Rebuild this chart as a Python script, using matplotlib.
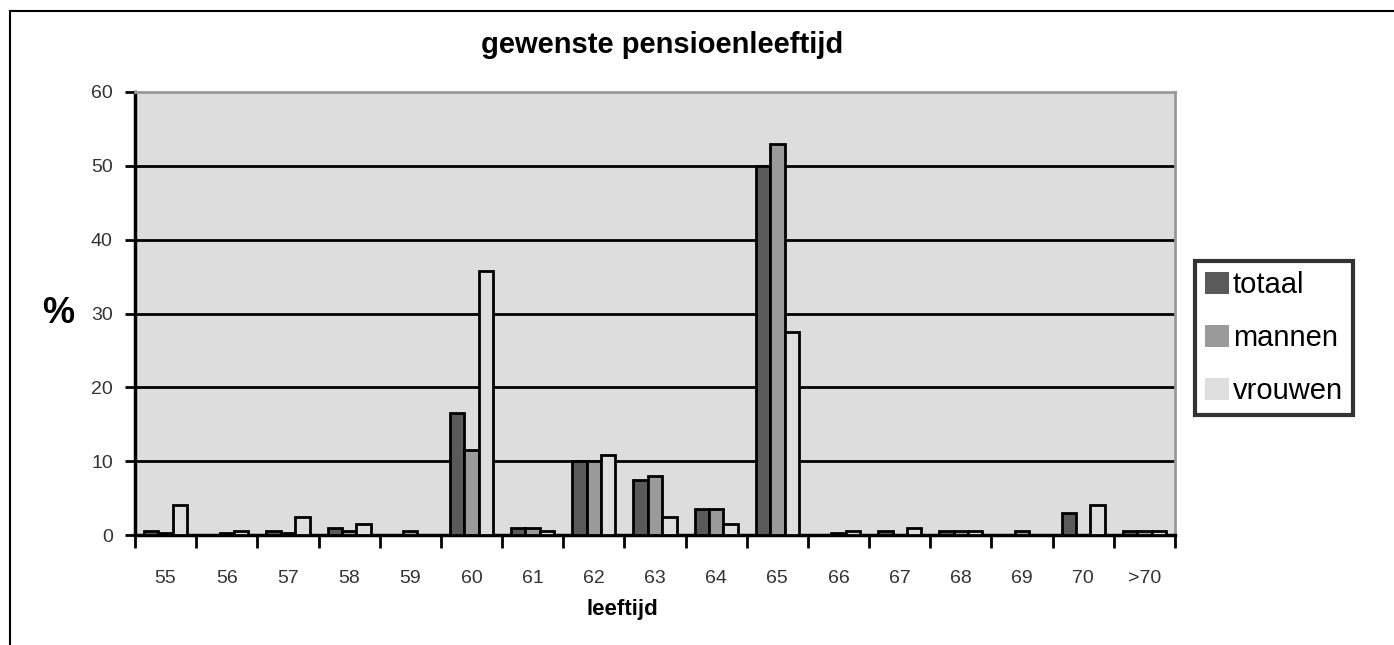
import numpy as np
import matplotlib.pyplot as plt
from matplotlib.lines import Line2D

plt.rcParams['font.family'] = ['Liberation Sans', 'DejaVu Sans']

leeftijd = ['55', '56', '57', '58', '59', '60', '61', '62', '63', '64',
            '65', '66', '67', '68', '69', '70', '>70']
totaal = [0.5, 0, 0.5, 1, 0, 16.5, 1, 10, 7.5, 3.5, 50, 0, 0.5, 0.5, 0, 3, 0.5]
mannen = [0.3, 0.3, 0.3, 0.5, 0.5, 11.5, 1, 10, 8, 3.5, 53, 0.3, 0, 0.5, 0.5, 0, 0.5]
vrouwen = [4, 0.5, 2.5, 1.5, 0, 35.7, 0.5, 10.8, 2.5, 1.5, 27.5, 0.5, 1, 0.5, 0, 4, 0.5]

series = [('totaal', totaal, '#5a5a5a'),
          ('mannen', mannen, '#9a9a9a'),
          ('vrouwen', vrouwen, '#dedede')]

fig = plt.figure(figsize=(13.94, 6.45), dpi=100)
ax = fig.add_axes([135 / 1394, 1 - 535 / 645, 1040 / 1394, 443 / 645])
ax.set_facecolor('#dddddd')

x = np.arange(len(leeftijd))
w = 0.235
handles = []
for i, (name, vals, col) in enumerate(series):
    b = ax.bar(x + (i - 1) * w, vals, w, color=col, edgecolor='black',
               linewidth=2, label=name, zorder=3)
    handles.append(b)

ax.set_xlim(-0.5, len(leeftijd) - 0.5)
ax.set_ylim(0, 60)
ax.set_yticks(range(0, 61, 10))
for y in range(10, 60, 10):
    ax.axhline(y, color='black', lw=2, zorder=1)

ax.set_xticks(x)
ax.set_xticklabels(leeftijd, fontsize=14, color='#333333')
ax.set_xticks(np.arange(-0.5, len(leeftijd)), minor=True)
ax.tick_params(axis='x', which='major', length=0, pad=25)
ax.tick_params(axis='x', which='minor', length=9, width=2, direction='out')
ax.tick_params(axis='y', length=7, width=2, direction='out', labelsize=14,
               labelcolor='#333333', pad=9)

for s in ['left', 'bottom']:
    ax.spines[s].set_linewidth(2.5)
    ax.spines[s].set_color('black')
for s in ['top', 'right']:
    ax.spines[s].set_linewidth(2)
    ax.spines[s].set_color('#999999')

fig.text(662 / 1394, 1 - 45 / 645, 'gewenste pensioenleeftijd',
         ha='center', va='center', fontsize=21, fontweight='bold')
fig.text(58 / 1394, 1 - 313 / 645, '%', ha='center', va='center',
         fontsize=26, fontweight='bold')
fig.text(622 / 1394, 1 - 610 / 645, 'leeftijd', ha='center', va='center',
         fontsize=16, fontweight='bold')

leg = fig.legend(handles=handles, labels=[s[0] for s in series],
                 loc='center left', bbox_to_anchor=(1195 / 1394, 1 - 338 / 645),
                 fontsize=21, frameon=True, fancybox=False, edgecolor='black',
                 handlelength=0.8, handleheight=0.8, handletextpad=0.15,
                 labelspacing=0.85, borderpad=0.35, borderaxespad=0)
leg.get_frame().set_linewidth(3)
for h in leg.legend_handles:
    h.set_edgecolor('none')

# outer frame (top and left edge only visible)
fig.add_artist(Line2D([10 / 1394, 10 / 1394], [0, 1 - 11 / 645],
                      transform=fig.transFigure, color='black', lw=1.5))
fig.add_artist(Line2D([10 / 1394, 1], [1 - 11 / 645, 1 - 11 / 645],
                      transform=fig.transFigure, color='black', lw=1.5))

fig.savefig('out.png', dpi=100)
